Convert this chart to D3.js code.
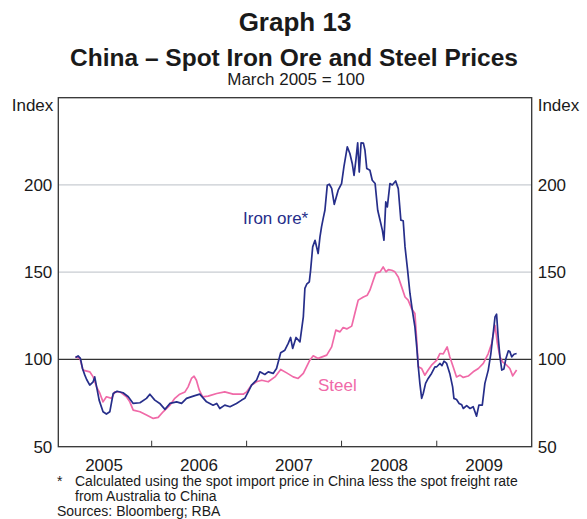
<!DOCTYPE html>
<html>
<head>
<meta charset="utf-8">
<script src="https://d3js.org/d3.v7.min.js"></script>
<style>
    body { margin: 0; background: #fff; }
    svg text { font-family: "Liberation Sans", Arial, sans-serif; fill: #1a1a1a; }
</style>
</head>
<body>
<div id="chart"></div>
<script>
var ironDates = ["2005-03-14", "2005-03-24", "2005-04-02", "2005-04-10", "2005-04-19", "2005-04-26", "2005-05-08", "2005-05-21", "2005-05-27", "2005-06-13",
    "2005-06-28", "2005-07-11", "2005-07-24", "2005-08-06", "2005-08-21", "2005-09-13", "2005-10-03", "2005-10-22", "2005-11-17", "2005-12-12",
    "2005-12-25", "2006-01-13", "2006-02-01", "2006-02-21", "2006-03-12", "2006-04-07", "2006-04-26", "2006-05-15", "2006-06-10", "2006-07-05",
    "2006-07-31", "2006-08-25", "2006-09-08", "2006-09-20", "2006-10-09", "2006-10-29", "2006-11-23", "2006-12-13", "2006-12-25", "2007-01-07",
    "2007-01-20", "2007-02-08", "2007-02-21", "2007-03-12", "2007-03-25", "2007-04-13", "2007-04-26", "2007-05-12", "2007-05-28", "2007-06-10",
    "2007-06-19", "2007-06-27", "2007-07-10", "2007-07-25", "2007-08-07", "2007-08-13", "2007-08-20", "2007-08-30", "2007-09-04", "2007-09-12",
    "2007-09-21", "2007-10-03", "2007-10-10", "2007-10-16", "2007-10-23", "2007-10-29", "2007-11-07", "2007-11-15", "2007-11-24", "2007-12-04",
    "2007-12-19", "2008-01-01", "2008-01-10", "2008-01-23", "2008-02-02", "2008-02-11", "2008-02-18", "2008-02-25", "2008-03-03", "2008-03-09",
    "2008-03-16", "2008-03-25", "2008-03-31", "2008-04-07", "2008-04-19", "2008-04-28", "2008-05-09", "2008-05-19", "2008-05-28", "2008-06-06",
    "2008-06-12", "2008-06-19", "2008-06-25", "2008-07-05", "2008-07-14", "2008-07-27", "2008-08-06", "2008-08-16", "2008-08-25", "2008-09-01",
    "2008-09-11", "2008-09-20", "2008-09-29", "2008-10-09", "2008-10-16", "2008-10-22", "2008-10-28", "2008-11-04", "2008-11-10", "2008-11-19",
    "2008-11-29", "2008-12-12", "2008-12-25", "2009-01-01", "2009-01-13", "2009-01-21", "2009-01-29", "2009-02-08", "2009-02-20", "2009-03-03",
    "2009-03-08", "2009-03-18", "2009-03-28", "2009-04-07", "2009-04-13", "2009-04-26", "2009-05-09", "2009-05-21", "2009-06-03", "2009-06-12",
    "2009-06-25", "2009-07-05", "2009-07-18", "2009-07-28", "2009-08-06", "2009-08-13", "2009-08-19", "2009-08-25", "2009-09-01", "2009-09-08",
    "2009-09-16", "2009-09-24", "2009-10-03", "2009-10-09", "2009-10-16", "2009-10-25", "2009-11-04"];
var ironValues = [101.1, 102, 100.6, 94.8, 91, 88.5, 85.3, 87.2, 90, 76.7,
    70, 68.7, 70, 80.5, 81.8, 80.9, 78.6, 74.8, 75.2, 77.7,
    80.1, 76.7, 74.8, 71.4, 74.8, 75.7, 74.8, 77.7, 79, 80.1,
    75.7, 73.8, 74.8, 71.9, 73.8, 72.9, 74.8, 76.7, 77.7, 81.4,
    85.3, 88.1, 92.9, 91.4, 92.9, 92, 94.8, 103.8, 105.3, 109.2,
    112.6, 106.3, 112.6, 110.1, 124.4, 140.7, 143.1, 144.5, 151.1, 164.5,
    168.3, 160.7, 170.2, 176, 181.3, 185.5, 199.8, 200.4, 198, 188.9,
    197, 200.8, 210.3, 221.8, 218, 212.3, 205.5, 214.1, 224.1, 207.4,
    224.1, 224, 219.9, 209.4, 208.4, 202.7, 200.8, 185.5, 179.8, 174,
    168.3, 190.3, 187.4, 200.8, 200, 202.3, 197.9, 179.8, 179.5, 164.5,
    151.1, 137.8, 128.2, 118.7, 107.2, 95.8, 86.3, 77.7, 80.5, 86.3,
    89.1, 92, 95.8, 95.8, 97.7, 96.5, 99, 97.7, 92, 84.3,
    77.7, 77, 74.8, 74, 71.9, 73.5, 71.9, 72.9, 67.5, 73.8,
    73.8, 86.3, 93.9, 103.4, 114.9, 124.4, 125.9, 113, 101.5, 93.9,
    94.5, 100.6, 104.9, 104.5, 101.5, 103, 103.4];

var steelDates = ["2005-03-14", "2005-03-31", "2005-04-12", "2005-05-08", "2005-05-21", "2005-06-03", "2005-06-16", "2005-06-28", "2005-07-11", "2005-07-31",
    "2005-08-12", "2005-09-01", "2005-09-26", "2005-10-09", "2005-10-22", "2005-11-17", "2005-12-12", "2006-01-07", "2006-01-26", "2006-02-14",
    "2006-03-12", "2006-03-31", "2006-04-19", "2006-05-09", "2006-05-21", "2006-06-03", "2006-06-13", "2006-06-22", "2006-07-03", "2006-07-16",
    "2006-08-06", "2006-09-08", "2006-10-09", "2006-11-10", "2006-12-19", "2007-01-01", "2007-01-20", "2007-02-08", "2007-02-28", "2007-03-25",
    "2007-04-20", "2007-05-12", "2007-06-04", "2007-06-29", "2007-07-18", "2007-08-07", "2007-09-01", "2007-09-14", "2007-10-03", "2007-11-05",
    "2007-11-24", "2007-12-10", "2007-12-26", "2008-01-07", "2008-01-21", "2008-02-09", "2008-02-21", "2008-03-05", "2008-03-25", "2008-04-09",
    "2008-04-19", "2008-05-02", "2008-05-12", "2008-05-28", "2008-06-09", "2008-06-20", "2008-06-29", "2008-07-12", "2008-07-24", "2008-08-06",
    "2008-08-19", "2008-09-01", "2008-09-13", "2008-09-26", "2008-10-09", "2008-10-16", "2008-10-22", "2008-11-04", "2008-11-16", "2008-11-29",
    "2008-12-12", "2009-01-01", "2009-01-13", "2009-01-26", "2009-02-10", "2009-02-20", "2009-03-05", "2009-03-18", "2009-03-31", "2009-04-13",
    "2009-05-02", "2009-05-21", "2009-06-10", "2009-06-29", "2009-07-18", "2009-07-31", "2009-08-13", "2009-08-22", "2009-09-01", "2009-09-11",
    "2009-09-27", "2009-10-09", "2009-10-20", "2009-11-04"];
var steelValues = [101.5, 100.6, 93.9, 92.9, 90, 84.3, 80.5, 75.7, 78.6, 77.7,
    81.4, 81.4, 78.6, 75.7, 71, 70, 68.1, 66.2, 66.8, 70,
    73.8, 77.7, 80.1, 81.4, 84.3, 89.1, 90.4, 88.1, 82.4, 78.6,
    79, 80.5, 81.4, 80.1, 80.1, 81.4, 85.3, 87.2, 88.1, 87.2,
    90, 94.3, 92.3, 90, 89.1, 92, 99.6, 102.1, 100.6, 102.5,
    107.2, 116.8, 115.8, 118.3, 117.5, 119.1, 126.3, 134, 135.8, 136.8,
    139.7, 145.4, 149.6, 150.2, 153, 150.2, 151.5, 151.1, 150.2, 147.3,
    141.6, 135.8, 134, 129.2, 126.3, 111, 95.8, 94.8, 91, 93.9,
    96.7, 99.6, 103.4, 103.2, 107.2, 101.5, 95.8, 90, 91, 89.7,
    90.5, 92.9, 94.8, 97.7, 103.4, 109.2, 119.6, 109.2, 101.5, 98.6,
    96.7, 94.8, 90.6, 93.9];

var yTicks = [50, 100, 150, 200];
var gridValues = [150, 200];
var years = ["2005", "2006", "2007", "2008", "2009"];
var footnotes = ["Calculated using the spot import price in China less the spot freight rate", "from Australia to China"];

var navy = "#262e8a";
var pink = "#f06aa8";

var width = 587;
var height = 519;
var margin = { top: 97.7, right: 55.3, bottom: 72.3, left: 58.3 };
var parseDate = d3.timeParse("%Y-%m-%d");

var svg = d3.select("#chart")
    .append("svg")
    .attr("width", width)
    .attr("height", height);

var x = d3.scaleTime()
    .domain([parseDate("2005-01-07"), parseDate("2010-01-01")])
    .range([margin.left, width - margin.right]);

var y = d3.scaleLinear()
    .domain([50, 250])
    .range([height - margin.bottom, margin.top]);

//Titles
svg.append("text").attr("x", 295).attr("y", 31).attr("text-anchor", "middle")
    .style("font-size", "26px").style("font-weight", "bold").text("Graph 13");
svg.append("text").attr("x", 294).attr("y", 66).attr("text-anchor", "middle")
    .style("font-size", "24.5px").style("font-weight", "bold").text("China \u2013 Spot Iron Ore and Steel Prices");
svg.append("text").attr("x", 296).attr("y", 85).attr("text-anchor", "middle")
    .style("font-size", "17px").text("March 2005 = 100");

//Gridlines and the 100 line
svg.selectAll(".grid")
    .data(gridValues)
    .enter().append("line")
    .attr("x1", margin.left).attr("x2", width - margin.right)
    .attr("y1", function (d) { return y(d); })
    .attr("y2", function (d) { return y(d); })
    .attr("stroke", "#c8ccd2").attr("stroke-width", 1.3);

svg.append("line")
    .attr("x1", margin.left).attr("x2", width - margin.right)
    .attr("y1", y(100)).attr("y2", y(100))
    .attr("stroke", "#333").attr("stroke-width", 1.2);

//Axis labels, both sides
var yLeft = d3.axisLeft(y).tickValues(yTicks).tickSize(0).tickPadding(6);
var yRight = d3.axisRight(y).tickValues(yTicks).tickSize(0).tickPadding(6);

svg.append("g").attr("transform", "translate(" + margin.left + ",0)").call(yLeft)
    .call(function (g) { g.select(".domain").remove(); })
    .selectAll("text").style("font-size", "17px").attr("fill", "#1a1a1a");
svg.append("g").attr("transform", "translate(" + (width - margin.right) + ",0)").call(yRight)
    .call(function (g) { g.select(".domain").remove(); })
    .selectAll("text").style("font-size", "17px").attr("fill", "#1a1a1a");

svg.append("text").attr("x", margin.left - 5).attr("y", 111).attr("text-anchor", "end")
    .style("font-size", "17px").text("Index");
svg.append("text").attr("x", width - margin.right + 6).attr("y", 111)
    .style("font-size", "17px").text("Index");

//Year ticks at year boundaries, labels centred on each year
var yearTicks = years.slice(1).map(function (d) { return parseDate(d + "-01-01"); });
svg.selectAll(".ytick")
    .data(yearTicks)
    .enter().append("line")
    .attr("x1", function (d) { return x(d); })
    .attr("x2", function (d) { return x(d); })
    .attr("y1", height - margin.bottom)
    .attr("y2", height - margin.bottom - 6)
    .attr("stroke", "#333").attr("stroke-width", 1);

svg.selectAll(".ylabel")
    .data(years)
    .enter().append("text")
    .attr("x", function (d) { return x(parseDate(d + "-07-02")); })
    .attr("y", height - margin.bottom + 24)
    .attr("text-anchor", "middle")
    .style("font-size", "17px")
    .text(function (d) { return d; });

//Series
var line = d3.line()
    .x(function (d) { return x(d.date); })
    .y(function (d) { return y(d.value); });

function toPoints(dates, values) {
    return dates.map(function (d, i) { return { date: parseDate(d), value: values[i] }; });
}

svg.append("path")
    .datum(toPoints(steelDates, steelValues))
    .attr("fill", "none").attr("stroke", pink).attr("stroke-width", 1.7)
    .attr("stroke-linejoin", "round")
    .attr("d", line);

svg.append("path")
    .datum(toPoints(ironDates, ironValues))
    .attr("fill", "none").attr("stroke", navy).attr("stroke-width", 1.7)
    .attr("stroke-linejoin", "round")
    .attr("d", line);

//Frame
svg.append("rect")
    .attr("x", margin.left).attr("y", margin.top)
    .attr("width", width - margin.left - margin.right)
    .attr("height", height - margin.top - margin.bottom)
    .attr("fill", "none").attr("stroke", "#333").attr("stroke-width", 1.3);

//Series labels
svg.append("text").attr("x", 243).attr("y", 224)
    .style("font-size", "17px").style("fill", navy).text("Iron ore*");
svg.append("text").attr("x", 318).attr("y", 391)
    .style("font-size", "17px").style("fill", pink).text("Steel");

//Footnotes
svg.append("text").attr("x", 57).attr("y", 486).style("font-size", "14px").text("*");
svg.selectAll(".foot")
    .data(footnotes)
    .enter().append("text")
    .attr("x", 75)
    .attr("y", function (d, i) { return 486 + i * 15; })
    .style("font-size", "14px")
    .text(function (d) { return d; });
svg.append("text").attr("x", 57).attr("y", 516).style("font-size", "14px").text("Sources: Bloomberg; RBA");
</script>
</body>
</html>
